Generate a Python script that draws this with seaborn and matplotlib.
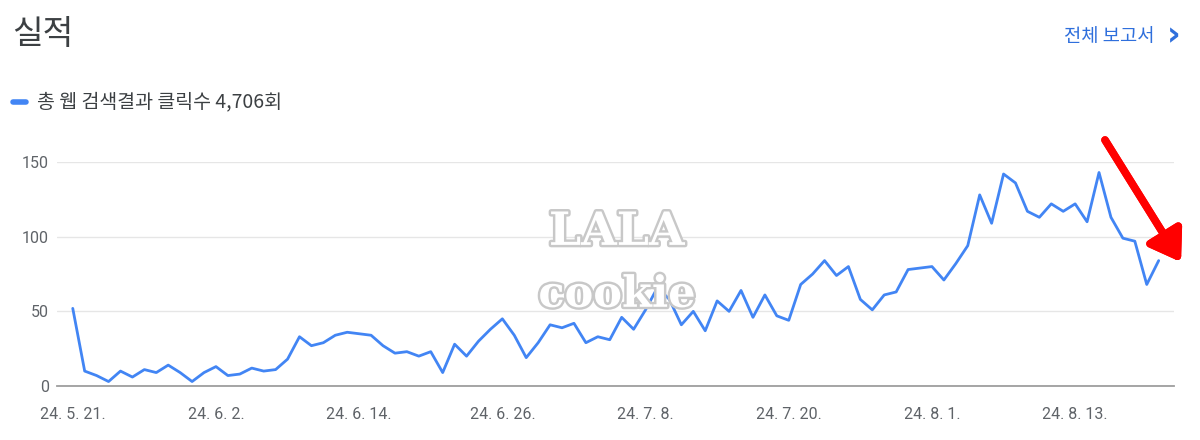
import pandas as pd
import seaborn as sns
import matplotlib.pyplot as plt
import matplotlib.patheffects as pe

# daily clicks, 24.5.21 ~ 24.8.20
clicks = [52, 10, 7, 3, 10, 6, 11, 9, 14, 9,
          3, 9, 13, 7, 8, 12, 10, 11, 18, 33,
          27, 29, 34, 36, 35, 34, 27, 22, 23, 20,
          23, 9, 28, 20, 30, 38, 45, 34, 19, 29,
          41, 39, 42, 29, 33, 31, 46, 38, 51, 66,
          58, 41, 50, 37, 57, 50, 64, 46, 61, 47,
          44, 68, 75, 84, 74, 80, 58, 51, 61, 63,
          78, 79, 80, 71, 82, 94, 128, 109, 142, 136,
          117, 113, 122, 117, 122, 110, 143, 113, 99, 97, 68, 84]
start_date = "2024-05-21"

tick_dates = ["2024-05-21", "2024-06-02", "2024-06-14", "2024-06-26",
              "2024-07-08", "2024-07-20", "2024-08-01", "2024-08-13"]
tick_labels = ["24. 5. 21.", "24. 6. 2.", "24. 6. 14.", "24. 6. 26.",
               "24. 7. 8.", "24. 7. 20.", "24. 8. 1.", "24. 8. 13."]
y_ticks = [0, 50, 100, 150]

title = "실적"
legend_label = "총 웹 검색결과 클릭수 {:,}회".format(sum(clicks))
link_label = "전체 보고서"

if __name__ == '__main__':
    df = pd.DataFrame({
        "date": pd.date_range(start_date, periods=len(clicks), freq="D"),
        "clicks": clicks,
    })

    sns.set_theme(style="white")
    plt.rcParams['font.family'] = ['Roboto', 'Noto Sans CJK KR', 'DejaVu Sans']
    kr = ['Noto Sans CJK KR', 'DejaVu Sans']

    fig = plt.figure(figsize=(12, 4.4), dpi=100)
    ax = fig.add_axes([0.0475, 0.1227, 0.931, 0.509])

    sns.lineplot(data=df, x="date", y="clicks", ax=ax, color="#4285f4",
                 linewidth=2.0)

    ax.set_ylim(0, 150)
    ax.set_xlim(df["date"].iloc[0] - pd.Timedelta(days=1.32),
                df["date"].iloc[-1] + pd.Timedelta(days=1.3))
    ax.set_yticks(y_ticks)
    ax.set_xticks(pd.to_datetime(tick_dates))
    ax.set_xticklabels(tick_labels)
    ax.set_xlabel("")
    ax.set_ylabel("")
    ax.grid(axis="y", color="#e6e6e6", linewidth=1.0)
    ax.grid(axis="x", visible=False)
    for side in ["top", "right", "left"]:
        ax.spines[side].set_visible(False)
    ax.spines["bottom"].set_color("#9e9e9e")
    ax.spines["bottom"].set_linewidth(1.3)
    ax.tick_params(axis="both", length=0, labelsize=11.5, labelcolor="#5f6368")
    ax.tick_params(axis="y", pad=6)
    ax.tick_params(axis="x", pad=15)

    # header
    fig.text(0.010, 0.922, title, family=kr, fontsize=24, color="#3c4043",
             va="center", ha="left")
    fig.text(0.962, 0.916, link_label, family=kr, fontsize=13.5,
             color="#2f6fdc", va="center", ha="right")
    fig.text(0.9835, 0.918, "›", family=["DejaVu Sans"], fontsize=24,
             color="#2f6fdc", va="center", ha="right", fontweight="bold")

    # legend
    fig.lines.append(plt.Line2D([0.0105, 0.0215], [0.768, 0.768],
                                transform=fig.transFigure, color="#4285f4",
                                linewidth=4, solid_capstyle="round"))
    fig.text(0.031, 0.768, legend_label, family=kr, fontsize=14,
             color="#3c4043", va="center", ha="left")

    # watermark
    stroke = [pe.withStroke(linewidth=3.5, foreground="#c8c8c8")]
    fig.text(0.514, 0.473, "LALA", fontsize=33, fontweight="bold",
             family=["DejaVu Serif"], color="white", ha="center", va="center",
             path_effects=stroke)
    fig.text(0.514, 0.33, "cookie", fontsize=31, fontweight="bold",
             family=["DejaVu Serif"], color="white", ha="center", va="center",
             path_effects=stroke)

    # red arrow
    fig.add_artist(plt.annotate("", xy=(1181, 178), xytext=(1105, 300),
                                xycoords="figure pixels",
                                textcoords="figure pixels",
                                arrowprops=dict(arrowstyle="-|>,head_width=1.0,head_length=1.5",
                                                color="#ff0000", linewidth=5.5,
                                                shrinkA=0, shrinkB=0)))

    plt.savefig("out.png", dpi=100)
